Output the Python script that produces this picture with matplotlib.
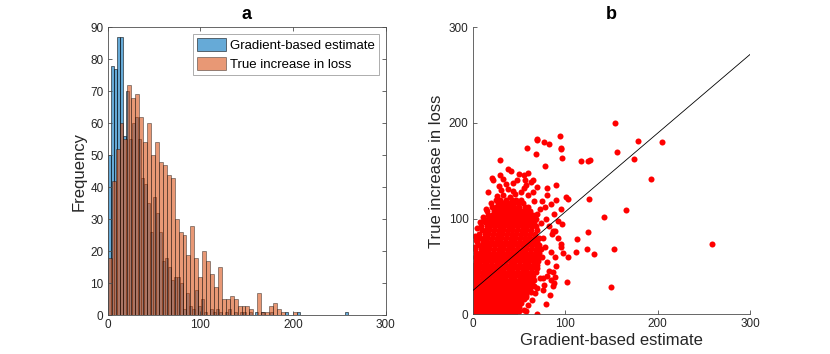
import numpy as np
import matplotlib.pyplot as plt

plt.rcParams['font.family'] = ['Liberation Sans', 'DejaVu Sans']

# ---- panel a: histogram counts (bins start at 0) ----
grad_bin_width = 3.25
grad_counts = [50, 78, 77, 87, 87, 56, 70, 55, 60, 62, 55, 43, 41, 35, 26, 37, 32, 26, 17, 18,
               15, 11, 12, 12, 10, 2, 7, 3, 2, 8, 3, 5, 1, 0, 2, 1, 2, 1, 0, 1,
               2, 0, 1, 0, 1, 1, 0, 1, 0, 1, 0, 1, 0, 0, 1, 0, 0, 0, 0, 1,
               0, 0, 0, 1, 0, 0, 0, 0, 0, 0, 0, 0, 0, 0, 0, 0, 0, 0, 0, 1]

true_bin_width = 4.25
true_counts = [18, 42, 52, 60, 55, 72, 68, 69, 62, 54, 60, 50, 54, 48, 47, 44, 43, 30, 26, 25,
               19, 28, 18, 12, 20, 17, 13, 9, 15, 5, 5, 6, 5, 3, 3, 3, 2, 0, 7, 1,
               1, 3, 4, 2, 1, 0, 0, 1]

# ---- panel b: scatter (gradient-based estimate, true increase) ----
# dense core, read row by row
core_rows_y = [1, 4, 8, 12, 16, 20, 24, 28, 32, 36, 40, 44, 48, 52, 56, 60, 64, 68, 72, 76,
               80, 84, 88, 92, 96, 100, 104, 108, 112, 116, 120]
core_rows_x = [
    [0, 3, 7, 11, 15, 19, 24, 28, 32, 37, 41, 46],
    [1, 5, 9, 13, 17, 21, 26, 30, 34, 39, 43, 48],
    [0, 3, 7, 11, 15, 19, 24, 28, 32, 37, 41, 45, 50],
    [1, 5, 9, 13, 17, 22, 26, 30, 35, 39, 43, 47, 52],
    [0, 3, 7, 11, 15, 20, 24, 28, 33, 37, 41, 45, 50, 55],
    [1, 5, 9, 13, 18, 22, 26, 31, 35, 39, 43, 48, 53, 58],
    [0, 3, 7, 11, 16, 20, 24, 29, 33, 37, 41, 46, 51, 56, 60],
    [1, 5, 9, 14, 18, 22, 27, 31, 35, 39, 44, 49, 54, 58, 62],
    [0, 3, 7, 12, 16, 20, 25, 29, 33, 37, 42, 47, 52, 56, 61, 64],
    [1, 5, 10, 14, 18, 23, 27, 31, 35, 40, 45, 50, 54, 59, 63, 66],
    [2, 6, 10, 14, 19, 23, 27, 32, 36, 41, 46, 51, 56, 61, 65],
    [0, 6, 11, 15, 19, 24, 28, 33, 38, 43, 48, 53, 58, 63, 68],
    [3, 7, 11, 15, 20, 24, 29, 34, 39, 44, 49, 54, 59, 64, 69],
    [1, 7, 12, 16, 20, 25, 30, 35, 40, 45, 50, 55, 60, 65, 70],
    [4, 8, 12, 16, 21, 26, 31, 36, 41, 46, 51, 56, 61, 66, 71],
    [2, 7, 11, 15, 19, 24, 29, 34, 39, 44, 49, 54, 59, 64, 69, 73],
    [4, 8, 12, 17, 22, 27, 32, 37, 42, 47, 52, 57, 62, 67, 72],
    [3, 9, 13, 18, 23, 28, 33, 38, 43, 48, 53, 58, 63, 68, 74],
    [6, 10, 14, 19, 24, 29, 34, 39, 44, 49, 54, 59, 64, 69, 72],
    [5, 11, 15, 20, 25, 30, 35, 40, 45, 50, 55, 60, 65, 70],
    [8, 12, 16, 21, 26, 31, 36, 41, 46, 51, 56, 61, 66, 72],
    [7, 13, 17, 22, 27, 32, 37, 42, 47, 52, 57, 62, 67],
    [10, 14, 18, 23, 28, 33, 38, 43, 48, 53, 58, 63, 69],
    [9, 15, 19, 24, 29, 34, 39, 44, 49, 54, 59, 64, 68],
    [13, 17, 21, 26, 31, 36, 41, 46, 51, 56, 61, 66],
    [12, 18, 23, 28, 33, 38, 43, 48, 53, 58, 63, 68],
    [17, 21, 26, 31, 36, 41, 46, 51, 56, 61, 65],
    [16, 23, 28, 33, 38, 43, 48, 53, 58, 62],
    [21, 25, 30, 35, 40, 45, 50, 56, 60],
    [20, 27, 33, 38, 44, 49, 54],
    [25, 30, 36, 42, 47, 52],
]

# scattered points outside the core
sparse_est = [26, 33, 40, 46, 31, 38, 44, 52, 36, 44, 58, 28, 17, 20.5, 22, 4,
              75, 80, 78, 85, 82, 76, 83, 92, 88, 79, 74, 85, 80, 73, 66, 70, 60, 65,
              55, 48, 57, 70, 63, 75, 78, 90, 86, 92, 95, 89, 80, 76, 84, 60, 55, 64,
              50, 58, 66, 2, 5, 8, 11, 14, 1,
              153.5, 69.2, 69.9, 77, 82.9, 94.4, 95.8, 95.8, 96.9, 59, 68.8, 178.7, 205,
              155.6, 174.4, 116.7, 125, 127, 193.1, 29.9, 78.5, 38.5, 41, 49.7, 60.2, 55,
              29.9, 65.2, 33.1, 89.7, 80, 100.9, 103.5, 125.7, 141.6, 165.7, 95.8, 96.5,
              86.5, 89.3, 112.4, 124.3, 95.5, 112, 123.6, 131.5, 152.7, 103, 97.3, 102,
              149.1, 259, 79.6, 69.9, 57.6, 88.6, 90, 87.2, 84.3, 72.8, 69.9, 67, 63,
              87.2, 88.2, 77.5, 76.4]
sparse_true = [124, 125, 123, 126, 130, 131, 129, 128, 136, 137, 135, 134, 128, 143, 140, 78,
               60, 55, 70, 65, 45, 80, 92, 98, 105, 100, 95, 115, 125, 110, 118, 105, 125, 128,
               132, 140, 140, 133, 138, 118, 112, 120, 84, 80, 70, 60, 40, 25, 20, 10, 5, 15,
               3, 18, 30, 82, 90, 96, 102, 110, 70,
               199.7, 183.3, 182, 180.5, 178, 186, 173.9, 172.5, 163, 174, 168, 180.8, 180,
               170, 162.7, 160, 160, 161.7, 141.8, 161.3, 155.4, 152, 150, 147, 147.4, 145.3,
               145.3, 140.4, 141, 134.8, 132, 123, 120.6, 120.6, 102, 109.4, 110.5, 94.8,
               87.5, 87.5, 79, 86, 73.5, 64.8, 68, 62.7, 68, 60.3, 63.8, 33.8,
               28.9, 73.2, 10.8, 0, 3.5, 39.4, 50.5, 44.6, 35.9, 38, 27.2, 22.6, 23.7,
               30, 32.4, 30.7, 37.6]

fit_intercept = 24.7
fit_slope = 0.824

est_pts = [x for y, xs in zip(core_rows_y, core_rows_x) for x in xs] + sparse_est
true_pts = [y for y, xs in zip(core_rows_y, core_rows_x) for x in xs] + sparse_true

blue = (0.0, 0.447, 0.741)
orange = (0.85, 0.325, 0.098)
axis_col = '#4d4d4d'
text_col = '#262626'

fig = plt.figure(figsize=(8.3, 3.54), dpi=100)
ax1 = fig.add_axes([0.1298, 0.1093, 0.3347, 0.8136])
ax2 = fig.add_axes([0.5695, 0.1121, 0.3345, 0.8107])

# panel a
g_edges = np.arange(len(grad_counts)) * grad_bin_width
t_edges = np.arange(len(true_counts)) * true_bin_width
ax1.bar(g_edges, grad_counts, width=grad_bin_width, align='edge',
        facecolor=blue + (0.6,), edgecolor=(0, 0, 0, 0.75), linewidth=0.5,
        label='Gradient-based estimate')
ax1.bar(t_edges, true_counts, width=true_bin_width, align='edge',
        facecolor=orange + (0.6,), edgecolor=(0, 0, 0, 0.55), linewidth=0.5,
        label='True increase in loss')
ax1.set_xlim(0, 300)
ax1.set_ylim(0, 90)
ax1.set_xticks([0, 100, 200, 300])
ax1.set_yticks(range(0, 91, 10))
ax1.set_ylabel('Frequency', fontsize=12, color=text_col, labelpad=3)
ax1.set_title('a', fontsize=13, fontweight='bold', pad=6)
leg = ax1.legend(loc='upper right', bbox_to_anchor=(0.975, 0.975), borderaxespad=0,
                 fontsize=9.5, handlelength=2.2, handleheight=1.05, handletextpad=0.3,
                 labelspacing=0.4, borderpad=0.3, fancybox=False, framealpha=1)
leg.get_frame().set_edgecolor('#a0a0a0')
leg.get_frame().set_linewidth(0.6)
ax1.tick_params(top=True, right=True)

# panel b
ax2.scatter(est_pts, true_pts, s=19, c='red', linewidths=0, zorder=2)
ax2.plot([0, 300], [fit_intercept, fit_intercept + fit_slope * 300], color='k', lw=0.6, zorder=3)
ax2.set_xlim(0, 300)
ax2.set_ylim(0, 300)
ax2.set_xticks([0, 100, 200, 300])
ax2.set_yticks([0, 100, 200, 300])
ax2.set_xlabel('Gradient-based estimate', fontsize=12, color=text_col, labelpad=2)
ax2.set_ylabel('True increase in loss', fontsize=12, color=text_col, labelpad=3)
ax2.set_title('b', fontsize=13, fontweight='bold', pad=6)
ax2.spines['top'].set_visible(False)
ax2.spines['right'].set_visible(False)

for ax in (ax1, ax2):
    for sp in ax.spines.values():
        sp.set_color(axis_col)
        sp.set_linewidth(0.6)
    ax.tick_params(direction='in', length=3, width=0.6, color=axis_col,
                   labelsize=8.5, labelcolor=text_col, pad=3)

fig.savefig('out.png', dpi=100)
